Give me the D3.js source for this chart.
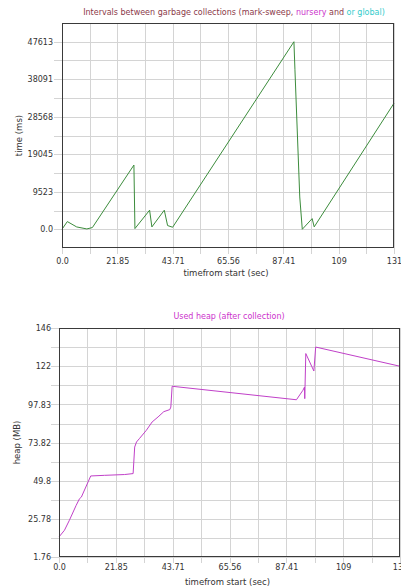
<!DOCTYPE html>
<html>
<head>
<meta charset="utf-8">
<script src="https://cdn.jsdelivr.net/npm/d3@7"></script>
<style>
  body { margin: 0; background: #fff; overflow: hidden; }
  svg text { font-family: "DejaVu Sans", sans-serif; }
</style>
</head>
<body>
<div class="canvas"></div>
<script>
// time axis, shared by both charts (sec)
const xTicks = [0, 21.85, 43.71, 65.56, 87.41, 109.27, 131.12]
const xTickLabels = ['0.0', '21.85', '43.71', '65.56', '87.41', '109', '131']

// intervals between collections
const gcTime = [0, 2.1, 5.8, 9.8, 12.0, 28.4, 28.8, 34.6, 35.5, 40.4, 41.7, 43.7, 91.6, 92.0, 92.9, 93.9, 94.9, 98.8, 99.6, 131.12]
const gcInterval = [0, 1950, 590, 80, 430, 16300, 170, 4840, 590, 4840, 940, 510, 47613, 40500, 25200, 8200, 0, 2700, 600, 32000]
const gcTicks = [0, 9523, 19045, 28568, 38091, 47613]
const gcTickLabels = ['0.0', '9523', '19045', '28568', '38091', '47613']

// used heap after collection
const heapTime = [0, 2.1, 4.0, 6.6, 7.9, 8.6, 12.2, 17.5, 25.2, 28.5, 29.1, 29.8, 31.0, 33.6, 35.8, 38.1, 40.3, 42.6, 43.0, 43.5, 91.3, 93.8, 94.4, 94.5, 94.9, 98.0, 98.7, 131.12]
const heapMB = [14.4, 18.6, 24.9, 34.3, 38.5, 39.5, 52.8, 53.2, 53.7, 54.3, 71.0, 74.2, 76.5, 81.6, 86.8, 90.0, 93.3, 94.6, 96.2, 109.3, 100.8, 106.8, 108.8, 101.5, 129.9, 118.9, 134.0, 121.9]
const heapTicks = [1.76, 25.78, 49.8, 73.82, 97.83, 122, 146]
const heapTickLabels = ['1.76', '25.78', '49.8', '73.82', '97.83', '122', '146']

const svg = d3.select('.canvas')
    .append('svg')
    .attr('width', 401)
    .attr('height', 586)

// halfway values between ticks, for the light grid
const withHalves = (ticks) => {
    let out = []
    for (let i = 0; i < ticks.length; i++) {
        out.push(ticks[i])
        if (i < ticks.length - 1) out.push((ticks[i] + ticks[i + 1]) / 2)
    }
    return out
}

const drawChart = (opt) => {
    const x = d3.scaleLinear().domain([0, 131.12]).range([opt.left, opt.right])
    const y = d3.scaleLinear().domain(opt.yDomain).range([opt.bottom, opt.top])

    const g = svg.append('g')

    g.append('rect')
        .attr('x', opt.left).attr('y', opt.top)
        .attr('width', opt.right - opt.left).attr('height', opt.bottom - opt.top)
        .attr('fill', '#fff')

    // grid, a bit longer than the box on the left and bottom
    g.selectAll('.vgrid')
        .data(withHalves(xTicks))
        .enter().append('line')
        .attr('x1', d => Math.round(x(d)) + 0.5).attr('x2', d => Math.round(x(d)) + 0.5)
        .attr('y1', opt.top).attr('y2', opt.bottom + 6)
        .attr('stroke', '#d4d4d4')

    g.selectAll('.hgrid')
        .data(withHalves(opt.yTicks))
        .enter().append('line')
        .attr('x1', opt.left - 8).attr('x2', opt.right)
        .attr('y1', d => Math.round(y(d)) + 0.5).attr('y2', d => Math.round(y(d)) + 0.5)
        .attr('stroke', '#d4d4d4')

    const line = d3.line()
        .x(d => x(d[0]))
        .y(d => y(d[1]))

    g.append('path')
        .datum(opt.xs.map((t, i) => [t, opt.ys[i]]))
        .attr('d', line)
        .attr('fill', 'none')
        .attr('stroke', opt.color)
        .attr('stroke-width', 1)

    g.append('rect')
        .attr('x', opt.left + 0.5).attr('y', opt.top + 0.5)
        .attr('width', opt.right - opt.left - 1).attr('height', opt.bottom - opt.top - 1)
        .attr('fill', 'none')
        .attr('stroke', '#3a3a3a')

    // axes (labels only, the box is the frame)
    const xAxis = d3.axisBottom(x)
        .tickValues(xTicks)
        .tickSize(0)
        .tickPadding(opt.xPad)
        .tickFormat((d, i) => xTickLabels[i])

    const yAxis = d3.axisLeft(y)
        .tickValues(opt.yTicks)
        .tickSize(0)
        .tickPadding(opt.yPad)
        .tickFormat((d, i) => opt.yTickLabels[i])

    const xAxisGroup = g.append('g')
        .attr('transform', `translate(0, ${opt.bottom})`)
        .call(xAxis)
    const yAxisGroup = g.append('g')
        .attr('transform', `translate(${opt.left}, 0)`)
        .call(yAxis)

    ;[xAxisGroup, yAxisGroup].forEach(ax => {
        ax.select('.domain').remove()
        ax.selectAll('text')
            .attr('fill', '#333')
            .style('font-size', '8px')
    })

    g.append('text')
        .attr('x', (opt.left + opt.right) / 2 - 2)
        .attr('y', opt.xLabelY)
        .attr('text-anchor', 'middle')
        .attr('fill', '#333')
        .style('font-size', '8.5px')
        .text('timefrom start (sec)')

    g.append('text')
        .attr('transform', `translate(${opt.yLabelX}, ${(opt.top + opt.bottom) / 2}) rotate(-90)`)
        .attr('text-anchor', 'middle')
        .attr('fill', '#333')
        .style('font-size', '8.5px')
        .text(opt.yLabel)
}

drawChart({
    left: 62, right: 394, top: 23, bottom: 248,
    yDomain: [-4761, 52374],
    yTicks: gcTicks, yTickLabels: gcTickLabels,
    xs: gcTime, ys: gcInterval,
    color: '#3c8c3c',
    xPad: 10, yPad: 9,
    xLabelY: 276, yLabelX: 22,
    yLabel: 'time (ms)'
})

drawChart({
    left: 59, right: 400, top: 328, bottom: 557,
    yDomain: [1.76, 146],
    yTicks: heapTicks, yTickLabels: heapTickLabels,
    xs: heapTime, ys: heapMB,
    color: '#c040c8',
    xPad: 7, yPad: 8,
    xLabelY: 585, yLabelX: 20,
    yLabel: 'heap (MB)'
})

// titles
const title = svg.append('text')
    .attr('x', 234)
    .attr('y', 15)
    .attr('text-anchor', 'middle')
    .style('font-size', '8px')
title.append('tspan').attr('fill', '#8b3a4a').text('Intervals between garbage collections (mark-sweep, ')
title.append('tspan').attr('fill', '#cc33cc').text('nursery')
title.append('tspan').attr('fill', '#8b3a4a').text(' and ')
title.append('tspan').attr('fill', '#33cccc').text('or global)')

svg.append('text')
    .attr('x', 229)
    .attr('y', 319)
    .attr('text-anchor', 'middle')
    .attr('fill', '#cc33cc')
    .style('font-size', '8px')
    .text('Used heap (after collection)')
</script>
</body>
</html>
